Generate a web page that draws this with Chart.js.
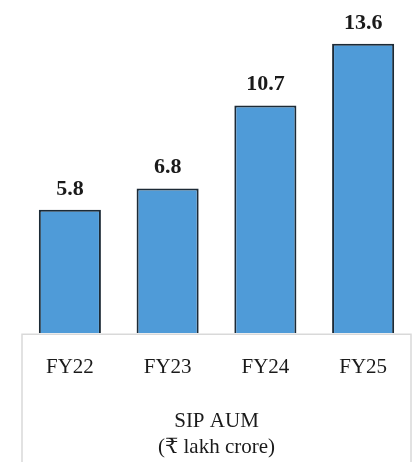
<!DOCTYPE html>
<html>
<head>
<meta charset="utf-8">
<script src="https://cdn.jsdelivr.net/npm/chart.js@4"></script>
<style>
  body { margin: 0; background: #fff; }
  #wrap { width: 412px; height: 465px; }
</style>
</head>
<body>
<div id="wrap"><canvas id="sipChart"></canvas></div>
<script>
const categories = ["FY22", "FY23", "FY24", "FY25"]
const sipAum = [5.8, 6.8, 10.7, 13.6]
const axisTitle = ["SIP AUM", "(₹ lakh crore)"]

const serif = "'Liberation Serif', 'DejaVu Serif', serif"

// light grey frame around the axis area, plus value labels on top of the bars
const decorations = {
    id: "decorations",
    afterDraw: (chart) => {
        const ctx = chart.ctx
        const area = chart.chartArea
        ctx.save()
        ctx.strokeStyle = "#d9d9d9"
        ctx.lineWidth = 1.5
        ctx.beginPath()
        ctx.moveTo(22, chart.height - 3)
        ctx.lineTo(22, area.bottom + 1)
        ctx.lineTo(411, area.bottom + 1)
        ctx.lineTo(411, chart.height - 3)
        ctx.stroke()

        ctx.fillStyle = "#1a1a1a"
        ctx.font = "bold 22px " + serif
        ctx.textAlign = "center"
        ctx.textBaseline = "bottom"
        const meta = chart.getDatasetMeta(0)
        meta.data.forEach((bar, i) => {
            ctx.fillText(sipAum[i].toFixed(1), bar.x, bar.y - 10)
        })
        ctx.restore()
    }
}

new Chart(document.getElementById("sipChart"), {
    type: "bar",
    data: {
        labels: categories,
        datasets: [{
            data: sipAum,
            backgroundColor: "#4f9bd8",
            borderColor: "#1c2a36",
            borderWidth: { top: 2, left: 2, right: 2, bottom: 0 },
            borderSkipped: "bottom",
            categoryPercentage: 1,
            barPercentage: 0.635
        }]
    },
    options: {
        responsive: true,
        maintainAspectRatio: false,
        animation: false,
        layout: { padding: { left: 21, right: 0, top: 0, bottom: 4 } },
        plugins: {
            legend: { display: false },
            tooltip: { enabled: false }
        },
        scales: {
            y: {
                display: false,
                min: 0,
                max: 15.66
            },
            x: {
                grid: { display: false },
                border: { display: false },
                ticks: {
                    color: "#1a1a1a",
                    font: { family: serif, size: 21 },
                    padding: 14
                },
                title: {
                    display: true,
                    text: axisTitle,
                    color: "#1a1a1a",
                    font: { family: serif, size: 21, lineHeight: 1.25 },
                    padding: { top: 14, bottom: 0 }
                }
            }
        }
    },
    plugins: [decorations]
})
</script>
</body>
</html>
